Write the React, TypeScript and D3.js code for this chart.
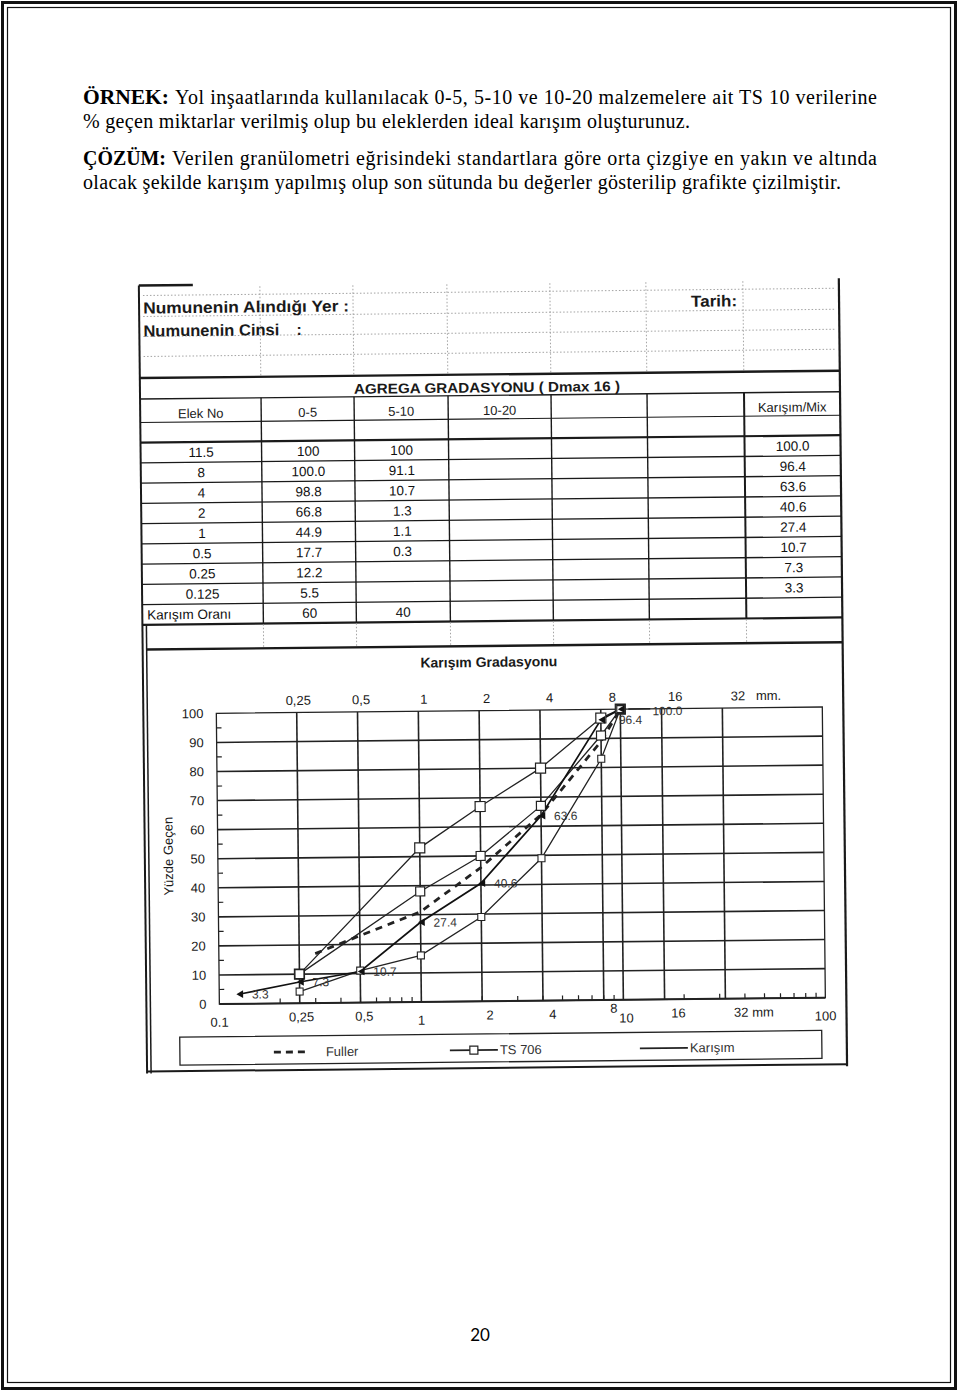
import React from 'react';
import * as d3 from 'd3';

// ---------------- paragraph text ----------------
const paraBold = ['ÖRNEK:', '', 'ÇÖZÜM:', ''];
const paraLines = [
  'Yol inşaatlarında kullanılacak 0-5, 5-10 ve 10-20 malzemelere ait TS 10 verilerine',
  '% geçen miktarlar verilmiş olup bu eleklerden ideal karışım oluşturunuz.',
  'Verilen granülometri eğrisindeki standartlara göre orta çizgiye en yakın ve altında',
  'olacak şekilde karışım yapılmış olup son sütunda bu değerler gösterilip grafikte çizilmiştir.',
];
const pageNumber = '20';

// ---------------- table data ----------------
const headerNames = ['Elek No', '0-5', '5-10', '10-20', '', '', 'Karışım/Mix'];
const sieveNames = ['11.5', '8', '4', '2', '1', '0.5', '0.25', '0.125'];
const pass05 = ['100', '100.0', '98.8', '66.8', '44.9', '17.7', '12.2', '5.5'];
const pass510 = ['100', '91.1', '10.7', '1.3', '1.1', '0.3', '', ''];
const passMix = ['100.0', '96.4', '63.6', '40.6', '27.4', '10.7', '7.3', '3.3'];
const ratioRow = ['Karışım Oranı', '60', '40'];

// ---------------- chart data ----------------
const mixSieves = [0.125, 0.25, 0.5, 1, 2, 4, 8, 10];
const mixValues = [3.3, 7.3, 10.7, 27.4, 40.6, 63.6, 96.4, 100];
const mixLabels = ['3.3', '7.3', '10.7', '27.4', '40.6', '63.6', '96.4', '100.0'];

const tsUpperSieves = [0.25, 1, 2, 4, 8, 10];
const tsUpperValues = [10, 53, 67, 80, 97, 100];
const tsMidSieves = [0.25, 1, 2, 4, 8, 10];
const tsMidValues = [10, 38, 50, 67, 91, 100];
const tsLowerSieves = [0.25, 0.5, 1, 2, 4, 8, 10];
const tsLowerValues = [4, 11, 16, 29, 49, 83, 100];

const fullerSieves = [0.3, 0.5, 1, 2, 4, 8, 10];
const fullerValues = [17, 23, 31, 46, 64, 89, 100];

const gridSieves = [0.25, 0.5, 1, 2, 4, 8, 10, 16, 32];
const yTickValues = [0, 10, 20, 30, 40, 50, 60, 70, 80, 90, 100];
const yMinorValues = [5, 15, 25, 35, 45, 55, 65, 75, 85, 95];

const topLabelValues = [0.25, 0.5, 1, 2, 4, 8, 16, 32];
const topLabelText = ['0,25', '0,5', '1', '2', '4', '8', '16', '32'];
const axisLabelValues = [0.1, 1, 10, 100];
const axisLabelText = ['0.1', '1', '10', '100'];
const bottomLabelValues = [0.25, 0.5, 2, 4, 8, 16, 32];
const bottomLabelText = ['0,25', '0,5', '2', '4', '8', '16', '32'];

const legendNames = ['Fuller', 'TS 706', 'Karışım'];

const serif = '"Liberation Serif", "Times New Roman", serif';
const sans = '"Liberation Sans", Arial, sans-serif';
const ink = '#1a1a1a';

export default function App() {
  // scales
  const x = d3.scaleLog().domain([0.1, 100]).range([216, 822]);
  const xl = d3.scaleLog().domain([0.1, 100]).range([215, 841]); // overlay label positions
  const y = d3.scaleLinear().domain([0, 100]).range([1001.3, 710.6]);
  const line = d3
    .line<[number, number]>()
    .x((d) => x(d[0]))
    .y((d) => y(d[1]));
  const zip = (a: number[], b: number[]) => a.map((v, i) => [v, b[i]] as [number, number]);

  const mix = zip(mixSieves, mixValues);
  const tsU = zip(tsUpperSieves, tsUpperValues);
  const tsM = zip(tsMidSieves, tsMidValues);
  const tsL = zip(tsLowerSieves, tsLowerValues);
  const ful = zip(fullerSieves, fullerValues);

  const minorX = x.ticks().filter((v) => Math.abs(Math.log10(v) - Math.round(Math.log10(v))) > 1e-6);
  const tri = d3.symbol(d3.symbolTriangle, 26)() as string;

  // table geometry
  const colX = [143, 264, 357, 451, 554, 650, 747, 843];
  const rowTop0 = 439;
  const rowH = 20.25;
  const nRows = sieveNames.length + 1;
  const colC = (i: number) => (colX[i] + colX[i + 1]) / 2;

  const textEnds = [877, 690, 877, 841];
  const restStart = [175, 83, 172, 83];
  const boldLen = [86, 0, 83, 0];
  const baselines = [104, 128, 165, 189];

  const [x0, x1] = x.range();
  const [yB, yT] = y.range();

  return (
    <div style={{ position: 'absolute', left: 0, top: 0, width: 960, height: 1393, background: '#fff' }}>
      <svg width={960} height={1393} viewBox="0 0 960 1393" style={{ display: 'block' }}>
        <rect x={0} y={0} width={960} height={1393} fill="#fff" />
        {/* page border */}
        <rect x={2.5} y={2.5} width={953} height={1386} fill="none" stroke="#111" strokeWidth={3} />
        <rect x={7.5} y={7.5} width={943} height={1375} fill="none" stroke="#111" strokeWidth={1.2} />

        {/* paragraph */}
        {paraLines.map((t, i) => (
          <g key={i} fontFamily={serif} fontSize={20} fill="#000">
            {paraBold[i] && (
              <text x={83} y={baselines[i]} fontWeight="bold" textLength={boldLen[i]} lengthAdjust="spacingAndGlyphs">
                {paraBold[i]}
              </text>
            )}
            <text
              x={restStart[i]}
              y={baselines[i]}
              textLength={textEnds[i] - restStart[i]}
              lengthAdjust="spacing"
            >
              {t}
            </text>
          </g>
        ))}

        {/* scanned form, slightly rotated */}
        <g transform="rotate(-0.6 480 680)" fontFamily={sans} fill={ink}>
          {/* form frame */}
          <line x1={143} x2={197} y1={282} y2={282} stroke={ink} strokeWidth={2.5} />
          <line x1={143} x2={143} y1={282} y2={1070} stroke={ink} strokeWidth={2} />
          <line x1={147} x2={147} y1={621} y2={1070} stroke={ink} strokeWidth={1.5} />
          <line x1={843} x2={843} y1={282} y2={1070} stroke={ink} strokeWidth={2.2} />

          {/* dotted header area */}
          {[292, 313, 333, 353].map((yy) => (
            <line key={yy} x1={147} x2={840} y1={yy} y2={yy} stroke="#999" strokeWidth={0.9} strokeDasharray="1.5 2" />
          ))}
          {colX.slice(1, 7).map((xx) => (
            <line key={'dv' + xx} x1={xx} x2={xx} y1={284} y2={374} stroke="#999" strokeWidth={0.9} strokeDasharray="1.5 2" />
          ))}
          <text x={147} y={310} fontSize={16} fontWeight="bold" textLength={206} lengthAdjust="spacingAndGlyphs">
            Numunenin Alındığı Yer :
          </text>
          <text x={147} y={333} fontSize={16} fontWeight="bold" textLength={136} lengthAdjust="spacingAndGlyphs">
            Numunenin Cinsi
          </text>
          <text x={300} y={333} fontSize={16} fontWeight="bold">
            :
          </text>
          <text x={695} y={309} fontSize={16} fontWeight="bold" textLength={46} lengthAdjust="spacingAndGlyphs">
            Tarih:
          </text>

          {/* table */}
          <line x1={143} x2={843} y1={374.5} y2={374.5} stroke={ink} strokeWidth={2.4} />
          <text x={490} y={392.5} fontSize={14} fontWeight="bold" textAnchor="middle" textLength={266} lengthAdjust="spacingAndGlyphs">
            AGREGA GRADASYONU  ( Dmax 16 )
          </text>
          <line x1={143} x2={843} y1={395.5} y2={395.5} stroke={ink} strokeWidth={1.4} />
          <line x1={143} x2={843} y1={419} y2={419} stroke={ink} strokeWidth={1.1} />
          {d3.range(nRows + 1).map((i) => (
            <line
              key={'r' + i}
              x1={143}
              x2={843}
              y1={rowTop0 + i * rowH}
              y2={rowTop0 + i * rowH}
              stroke={ink}
              strokeWidth={i === 0 || i === nRows ? 2.2 : 1.3}
            />
          ))}
          {colX.slice(1, 7).map((xx, i) => (
            <line key={'c' + xx} x1={xx} x2={xx} y1={395.5} y2={rowTop0 + nRows * rowH} stroke={ink} strokeWidth={i === 5 ? 2 : 1.4} />
          ))}
          {colX.slice(1, 7).map((xx) => (
            <line key={'cb' + xx} x1={xx} x2={xx} y1={622} y2={645} stroke="#999" strokeWidth={0.9} strokeDasharray="1.5 2" />
          ))}
          {headerNames.map((h, i) =>
            h ? (
              <text key={'h' + i} x={colC(i)} y={415} fontSize={13} textAnchor="middle">
                {h}
              </text>
            ) : null
          )}
          {sieveNames.map((s, r) => {
            const by = rowTop0 + r * rowH + 15;
            return (
              <g key={'row' + r} fontSize={13.5} textAnchor="middle" fill="#111">
                <text x={colC(0)} y={by}>{s}</text>
                <text x={colC(1)} y={by}>{pass05[r]}</text>
                <text x={colC(2)} y={by}>{pass510[r]}</text>
                <text x={colC(6)} y={by}>{passMix[r]}</text>
              </g>
            );
          })}
          <g fontSize={13.5} fill="#111">
            <text x={148} y={rowTop0 + 8 * rowH + 15}>{ratioRow[0]}</text>
            <text x={colC(1)} y={rowTop0 + 8 * rowH + 15} textAnchor="middle">{ratioRow[1]}</text>
            <text x={colC(2)} y={rowTop0 + 8 * rowH + 15} textAnchor="middle">{ratioRow[2]}</text>
          </g>

          {/* chart panel */}
          <line x1={147} x2={843} y1={646} y2={646} stroke={ink} strokeWidth={2.4} />
          <line x1={143} x2={843} y1={1068} y2={1068} stroke={ink} strokeWidth={2} />
          <text x={489} y={667} fontSize={14} fontWeight="bold" textAnchor="middle">
            Karışım Gradasyonu
          </text>

          {/* grid */}
          {yTickValues.slice(1, -1).map((v) => (
            <line key={'gy' + v} x1={x0} x2={x1} y1={y(v)} y2={y(v)} stroke="#222" strokeWidth={1.6} />
          ))}
          {gridSieves.map((v) => (
            <line key={'gx' + v} x1={x(v)} x2={x(v)} y1={yT} y2={yB} stroke="#222" strokeWidth={1.6} />
          ))}
          <rect x={x0} y={yT} width={x1 - x0} height={yB - yT} fill="none" stroke="#222" strokeWidth={1.3} />
          <line x1={x0} x2={x1} y1={yB} y2={yB} stroke="#222" strokeWidth={2} />
          {minorX.map((v) => (
            <line key={'mx' + v} x1={x(v)} x2={x(v)} y1={yB} y2={yB - 5} stroke="#222" strokeWidth={1.2} />
          ))}
          {yMinorValues.map((v) => (
            <line key={'my' + v} x1={x0} x2={x0 + 5} y1={y(v)} y2={y(v)} stroke="#222" strokeWidth={1.2} />
          ))}

          {/* y labels */}
          {yTickValues.map((v) => (
            <text key={'yl' + v} x={x0 - 13} y={y(v) + 4.5} fontSize={13} textAnchor="end">
              {v}
            </text>
          ))}
          <text transform={`translate(171 ${(yT + yB) / 2 - 3}) rotate(-90)`} fontSize={13} textAnchor="middle">
            Yüzde Geçen
          </text>

          {/* top overlay labels */}
          {topLabelValues.map((v, i) => (
            <text key={'tl' + v} x={xl(v)} y={703} fontSize={13} textAnchor="middle">
              {topLabelText[i]}
            </text>
          ))}
          <text x={xl(32) + 18} y={703} fontSize={13}>
            mm.
          </text>

          {/* bottom labels */}
          {axisLabelValues.map((v, i) => (
            <text key={'al' + v} x={x(v) + (v === 10 ? 3 : 0)} y={1024} fontSize={13} textAnchor="middle">
              {axisLabelText[i]}
            </text>
          ))}
          {bottomLabelValues.map((v, i) => (
            <text
              key={'bl' + v}
              x={v === 8 ? x(10) - 6 : xl(v)}
              y={v === 8 ? 1014 : 1019.5}
              fontSize={13}
              textAnchor={v === 8 ? 'end' : 'middle'}
            >
              {bottomLabelText[i]}
            </text>
          ))}
          <text x={xl(32) + 11} y={1019.5} fontSize={13}>
            mm
          </text>

          {/* series */}
          <path d={line(tsU) || ''} fill="none" stroke="#222" strokeWidth={1.3} />
          <path d={line(tsM) || ''} fill="none" stroke="#222" strokeWidth={1.3} />
          <path d={line(tsL) || ''} fill="none" stroke="#222" strokeWidth={1.3} />
          <path d={line(ful) || ''} fill="none" stroke="#222" strokeWidth={2.8} strokeDasharray="7 6" />
          <path d={line(mix) || ''} fill="none" stroke="#111" strokeWidth={1.7} />

          {tsU.map((d, i) => (
            <rect key={'su' + i} x={x(d[0]) - 5} y={y(d[1]) - 5} width={10} height={10} fill="#fff" stroke="#222" strokeWidth={1.2} />
          ))}
          {tsM.map((d, i) => (
            <rect key={'sm' + i} x={x(d[0]) - 4.5} y={y(d[1]) - 4.5} width={9} height={9} fill="#fff" stroke="#222" strokeWidth={1.2} />
          ))}
          {tsL.map((d, i) => (
            <rect key={'sl' + i} x={x(d[0]) - 3.5} y={y(d[1]) - 3.5} width={7} height={7} fill="#fff" stroke="#222" strokeWidth={1.1} />
          ))}
          {mix.map((d, i) => (
            <path key={'mt' + i} d={tri} transform={`translate(${x(d[0]) + 2} ${y(d[1])}) rotate(-90)`} fill="#111" />
          ))}
          {mix.map((d, i) => {
            const last = i === mix.length - 1;
            const lx = x(d[0]) + (last ? 32 : i === mix.length - 2 ? 18 : 13);
            return (
              <g key={'ml' + i}>
                {last && <line x1={x(d[0]) + 8} x2={lx - 2} y1={y(d[1])} y2={y(d[1])} stroke="#222" strokeWidth={1.5} />}
                <text x={lx} y={y(d[1]) + (last ? 6.5 : 4.5)} fontSize={12} fill="#333">
                  {mixLabels[i]}
                </text>
              </g>
            );
          })}

          {/* legend */}
          <rect x={176} y={1034} width={642} height={28} fill="none" stroke="#222" strokeWidth={1.3} />
          <line x1={270} x2={306} y1={1050} y2={1050} stroke="#222" strokeWidth={2.8} strokeDasharray="7 5" />
          <text x={322} y={1054.5} fontSize={13} fill="#333">{legendNames[0]}</text>
          <line x1={446} x2={494} y1={1050} y2={1050} stroke="#222" strokeWidth={1.6} />
          <rect x={466} y={1046} width={8} height={8} fill="#fff" stroke="#222" strokeWidth={1.2} />
          <text x={496} y={1054.5} fontSize={13} fill="#333">{legendNames[1]}</text>
          <line x1={636} x2={684} y1={1050} y2={1050} stroke="#222" strokeWidth={1.6} />
          <text x={686} y={1054.5} fontSize={13} fill="#333">{legendNames[2]}</text>
        </g>

        {/* page number */}
        <text x={480} y={1341} fontFamily="Lato, 'Noto Sans', sans-serif" fontSize={17} textAnchor="middle" fill="#000">
          {pageNumber}
        </text>
      </svg>
    </div>
  );
}
